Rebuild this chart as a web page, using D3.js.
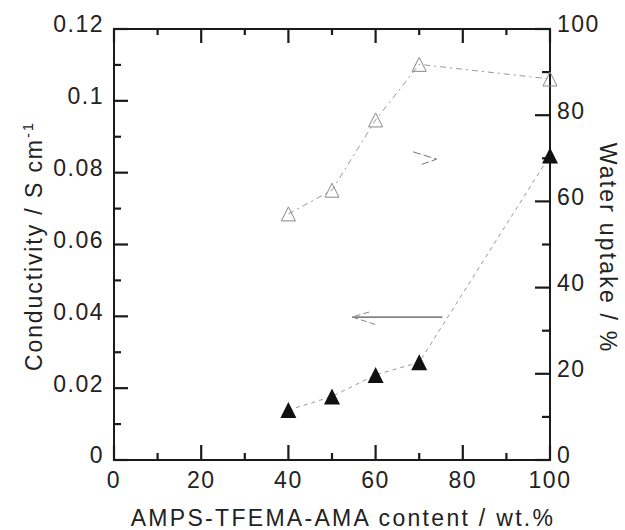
<!DOCTYPE html>
<html lang="en">
<head>
    <meta charset="UTF-8">
    <title>Conductivity and water uptake</title>
    <script src="https://d3js.org/d3.v7.min.js"></script>
    <style type="text/css">
        body {
            margin: 0;
            background: #fff;
        }

        text {
            font-family: "Liberation Sans", Arial, sans-serif;
            fill: #222;
        }
    </style>
</head>
<body>
    <div id="chart"></div>
    <script type="text/javascript">
        // data
        var content = [40, 50, 60, 70, 100];
        var conductivity = [0.0139, 0.0177, 0.0237, 0.0272, 0.0848];
        var waterUptake = [57.1, 62.6, 78.9, 91.8, 88.4];

        var xTicks = [0, 20, 40, 60, 80, 100];
        var leftTicks = [0, 0.02, 0.04, 0.06, 0.08, 0.1, 0.12];
        var rightTicks = [0, 20, 40, 60, 80, 100];
        var xMinor = [10, 30, 50, 70, 90];
        var leftMinor = [0.01, 0.03, 0.05, 0.07, 0.09, 0.11];
        var rightMinor = [10, 30, 50, 70, 90];

        // annotation arrows (data units)
        var leftArrow = { x1: 75.3, x2: 54.6, y: 0.0398 };   // points to conductivity axis
        var rightArrowHead = [[68.6, 71.5], [74.0, 69.8], [70.6, 68.6]]; // points to water axis

        var W = 625, H = 530;
        var margin = { top: 29, right: 75, bottom: 70, left: 114 };
        var w = W - margin.left - margin.right,
            h = H - margin.top - margin.bottom;

        var svg = d3.select('#chart').append('svg')
            .attr('width', W)
            .attr('height', H);

        var g = svg.append('g')
            .attr('transform', 'translate(' + margin.left + ',' + margin.top + ')');

        var x = d3.scaleLinear().domain([0, 100]).range([0, w]);
        var yL = d3.scaleLinear().domain([0, 0.12]).range([h, 0]);
        var yR = d3.scaleLinear().domain([0, 100]).range([h, 0]);

        var fmtL = function (d) { return d === 0 ? '0' : String(+d.toFixed(2)); };

        // lines
        var lineL = d3.line().x(function (d, i) { return x(content[i]); }).y(function (d) { return yL(d); });
        var lineR = d3.line().x(function (d, i) { return x(content[i]); }).y(function (d) { return yR(d); });

        g.append('path').datum(waterUptake)
            .attr('d', lineR)
            .attr('fill', 'none')
            .attr('stroke', '#999')
            .attr('stroke-width', 1)
            .attr('stroke-dasharray', '6,4,2,4');

        g.append('path').datum(conductivity)
            .attr('d', lineL)
            .attr('fill', 'none')
            .attr('stroke', '#999')
            .attr('stroke-width', 1)
            .attr('stroke-dasharray', '4,4');

        // frame + ticks, drawn by hand from the scales
        var frame = g.append('g').attr('class', 'frame');
        frame.append('rect')
            .attr('x', x.range()[0]).attr('y', yL.range()[1])
            .attr('width', x.range()[1] - x.range()[0])
            .attr('height', yL.range()[0] - yL.range()[1])
            .attr('fill', 'none').attr('stroke', '#1a1a1a').attr('stroke-width', 2);

        var ticks = function (vals, len, side) {
            frame.selectAll(null).data(vals).enter().append('line')
                .attr('x1', function (d) { return side === 'left' ? 0 : side === 'right' ? w : x(d); })
                .attr('x2', function (d) { return side === 'left' ? len : side === 'right' ? w - len : x(d); })
                .attr('y1', function (d) { return side === 'left' ? yL(d) : side === 'right' ? yR(d) : side === 'top' ? 0 : h; })
                .attr('y2', function (d) { return side === 'left' ? yL(d) : side === 'right' ? yR(d) : side === 'top' ? len : h - len; })
                .attr('stroke', '#1a1a1a').attr('stroke-width', 2.2);
        };
        ticks(leftTicks, 14, 'left');
        ticks(leftMinor, 7, 'left');
        ticks(rightTicks, 15, 'right');
        ticks(rightMinor, 8, 'right');
        ticks(xTicks, 15, 'bottom');
        ticks(xMinor, 7, 'bottom');
        ticks(xTicks, 14, 'top');
        ticks(xMinor, 6, 'top');

        // tick labels
        g.selectAll(null).data(leftTicks).enter().append('text')
            .attr('x', -10).attr('y', function (d) { return yL(d); })
            .attr('dy', '0.15em').attr('text-anchor', 'end')
            .style('font-size', '23px').style('letter-spacing', '1.5px')
            .text(fmtL);
        g.selectAll(null).data(rightTicks).enter().append('text')
            .attr('x', w + 7).attr('y', function (d) { return yR(d); })
            .attr('dy', '0.15em')
            .style('font-size', '23px').style('letter-spacing', '1.5px')
            .text(function (d) { return d; });
        g.selectAll(null).data(xTicks).enter().append('text')
            .attr('x', function (d) { return x(d); }).attr('y', h + 12)
            .attr('dy', '0.71em').attr('text-anchor', 'middle')
            .style('font-size', '23px').style('letter-spacing', '1.5px')
            .text(function (d) { return d; });

        // triangles
        var tri = function (s) {
            return 'M0,' + (-s / 2) + 'L' + (s / 2) + ',' + (s / 2) + 'L' + (-s / 2) + ',' + (s / 2) + 'Z';
        };

        g.selectAll('.open').data(waterUptake).enter().append('path')
            .attr('class', 'open')
            .attr('transform', function (d, i) { return 'translate(' + x(content[i]) + ',' + yR(d) + ')'; })
            .attr('d', tri(14))
            .attr('fill', 'none')
            .attr('stroke', '#888')
            .attr('stroke-width', 1);

        g.selectAll('.filled').data(conductivity).enter().append('path')
            .attr('class', 'filled')
            .attr('transform', function (d, i) { return 'translate(' + x(content[i]) + ',' + yL(d) + ')'; })
            .attr('d', tri(16))
            .attr('fill', '#111');

        // arrows
        var ax2 = x(leftArrow.x2), ay = yL(leftArrow.y);
        g.append('line')
            .attr('x1', x(leftArrow.x1)).attr('x2', ax2)
            .attr('y1', ay).attr('y2', ay)
            .attr('stroke', '#555').attr('stroke-width', 1.2);
        g.append('path')
            .attr('d', 'M' + (ax2 + 17) + ',' + (ay - 5) + 'L' + ax2 + ',' + ay + 'L' + (ax2 + 25) + ',' + (ay + 8))
            .attr('fill', 'none').attr('stroke', '#888').attr('stroke-width', 1)
            .attr('stroke-dasharray', '6,3');

        g.append('path')
            .attr('d', d3.line().x(function (d) { return x(d[0]); }).y(function (d) { return yR(d[1]); })(rightArrowHead))
            .attr('fill', 'none').attr('stroke', '#777').attr('stroke-width', 1)
            .attr('stroke-dasharray', '8,3');

        // titles
        svg.append('text')
            .attr('x', 343).attr('y', 526)
            .attr('text-anchor', 'middle')
            .style('font-size', '23px')
            .style('letter-spacing', '2.3px')
            .text('AMPS-TFEMA-AMA content / wt.%');

        var lt = svg.append('text')
            .attr('transform', 'translate(42,246) rotate(-90)')
            .attr('text-anchor', 'middle')
            .style('font-size', '23px')
            .style('letter-spacing', '1.9px');
        lt.append('tspan').text('Conductivity / S cm');
        lt.append('tspan').attr('dy', '-9').style('font-size', '15px').text('-1');

        svg.append('text')
            .attr('transform', 'translate(600,248) rotate(90)')
            .attr('text-anchor', 'middle')
            .style('font-size', '23px')
            .style('letter-spacing', '2.2px')
            .text('Water uptake / %');
    </script>
</body>
</html>
